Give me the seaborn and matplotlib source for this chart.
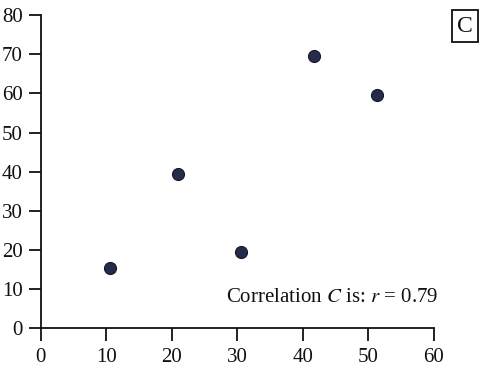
import matplotlib
matplotlib.use("Agg")
import matplotlib.pyplot as plt
from matplotlib.patches import Rectangle
import seaborn as sns
import pandas as pd

# Scatter data for panel C
x_vals = [10.5, 21.0, 30.6, 41.7, 51.3]
y_vals = [15.5, 39.5, 19.5, 69.5, 59.5]
x_ticks = [0, 10, 20, 30, 40, 50, 60]
y_ticks = [0, 10, 20, 30, 40, 50, 60, 70, 80]
panel_label = "C"
r_value = 0.79

sns.set_style("ticks")
plt.rcParams["font.family"] = ["Liberation Serif", "DejaVu Serif"]
plt.rcParams["mathtext.fontset"] = "stix"

df = pd.DataFrame({"x": x_vals, "y": y_vals})

fig = plt.figure(figsize=(4.85, 3.67), dpi=100)
ax = fig.add_axes([0.0839, 0.1054, 0.8109, 0.8536])

sns.scatterplot(data=df, x="x", y="y", ax=ax, s=75, color="#272b4a",
                edgecolor="#15182a", linewidth=0.8, zorder=3)

ax.set_xlim(0, 60)
ax.set_ylim(0, 80)
ax.set_xticks(x_ticks)
ax.set_yticks(y_ticks)
ax.set_xlabel("")
ax.set_ylabel("")
for side in ("top", "right"):
    ax.spines[side].set_visible(False)
for side in ("left", "bottom"):
    ax.spines[side].set_linewidth(1.3)
    ax.spines[side].set_color("#111111")
ax.tick_params(axis="both", direction="out", length=9, width=1.3,
               colors="#111111", labelsize=15, pad=4)
ax.tick_params(axis="x", pad=5)

fig.text(0.903, 0.19, f"Correlation $C$ is: $r$ = {r_value:.2f}",
         ha="right", va="center", fontsize=15, color="#111111")

# Panel label in a framed box at the top right
fig.add_artist(Rectangle((0.932, 0.8856), 0.0536, 0.0872,
                         transform=fig.transFigure, facecolor="white",
                         edgecolor="#111111", linewidth=1.3))
fig.text(0.9588, 0.929, panel_label, ha="center", va="center",
         fontsize=17, color="#111111")

fig.savefig("out.png", dpi=100, facecolor="white")
